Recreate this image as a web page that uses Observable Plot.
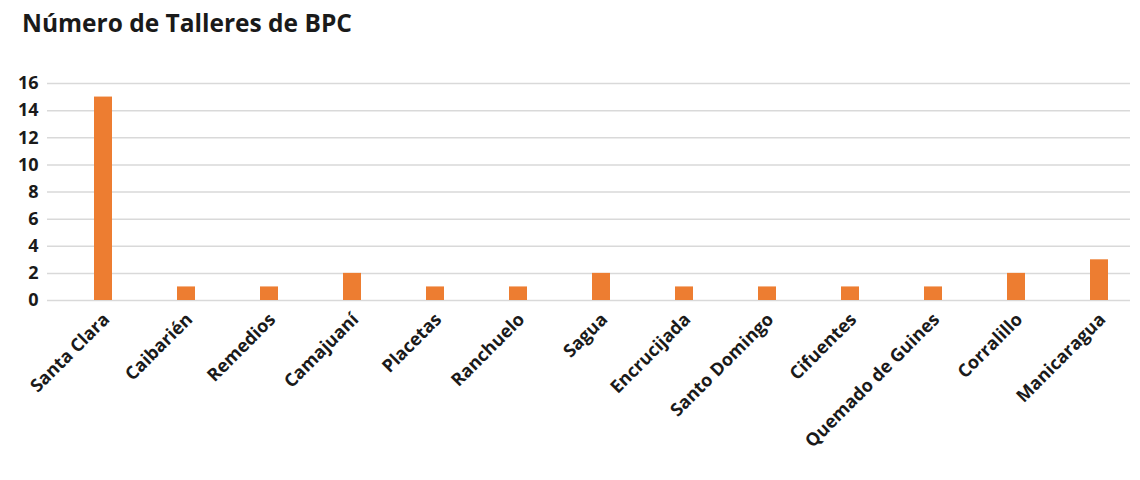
<!DOCTYPE html>
<html>
<head>
<meta charset="utf-8">
<script src="https://cdn.jsdelivr.net/npm/d3@7"></script>
<script src="https://cdn.jsdelivr.net/npm/@observablehq/plot@0.6"></script>
<style>
  body { margin: 0; background: #fff; font-family: "Open Sans", sans-serif; }
  #title { height: 50px; box-sizing: border-box; padding: 7px 0 0 22px; font-size: 24.5px; font-weight: bold; color: #1a1a1a; line-height: 32px; }
</style>
</head>
<body>
<div id="title">Número de Talleres de BPC</div>
<div id="chart"></div>
<script>
const municipios = ["Santa Clara","Caibarién","Remedios","Camajuaní","Placetas","Ranchuelo","Sagua","Encrucijada","Santo Domingo","Cifuentes","Quemado de Guines","Corralillo","Manicaragua"];
const talleres = [15,1,1,2,1,1,2,1,1,1,1,2,3];
const yTicks = [0,2,4,6,8,10,12,14,16];

const data = municipios.map((m, i) => ({municipio: m, valor: talleres[i]}));

const chart = Plot.plot({
  width: 1140,
  height: 430,
  marginLeft: 47,
  marginRight: 10,
  marginTop: 33,
  marginBottom: 180,
  style: {fontFamily: "'Open Sans', sans-serif", fontWeight: "bold", color: "#1a1a1a", background: "#fff"},
  x: {domain: municipios, range: [59, 1143], paddingInner: 0.78, paddingOuter: 0.39, label: null},
  y: {domain: [0, 16], ticks: yTicks, label: null},
  marks: [
    Plot.gridY(yTicks, {stroke: "#d9d9d9", strokeOpacity: 1, strokeWidth: 1.5}),
    Plot.barY(data, {x: "municipio", y: "valor", fill: "#ED7D31"}),
    Plot.axisY({ticks: yTicks, tickSize: 0, tickPadding: 9, label: null, fontSize: 18}),
    Plot.axisX({tickSize: 0, tickRotate: -45, tickPadding: 16, label: null, fontSize: 18, dx: 3})
  ]
});
document.getElementById("chart").appendChild(chart);
</script>
</body>
</html>
